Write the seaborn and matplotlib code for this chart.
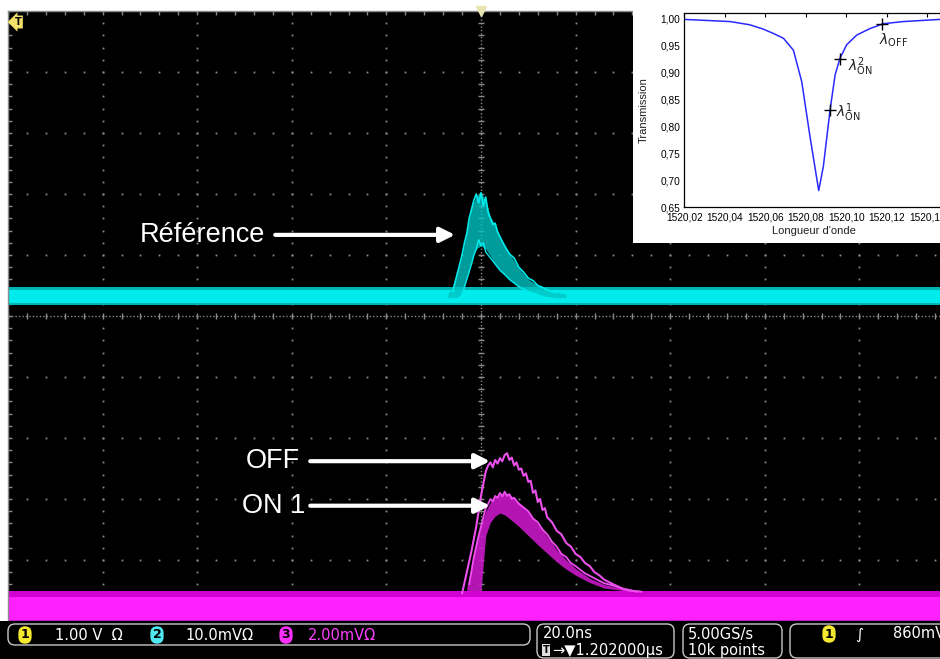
import numpy as np
import seaborn as sns
import matplotlib.pyplot as plt
from matplotlib.patches import Rectangle, FancyBboxPatch
from matplotlib.ticker import MultipleLocator, FuncFormatter

sns.set_theme(style='dark')
plt.rcParams['font.family'] = ['DejaVu Sans']

# --- scope traces (time in ns, vertical in divisions) ---
cyan_band = (0.18, 0.47)
cyan_core = (0.22, 0.43)
magenta_band = (-5.0, -4.5)
magenta_core = (-4.98, -4.6)

ref_t = [-7, -6, -5, -4, -3, -2, -1, 0, 1, 2, 3, 4, 6, 8, 10, 12, 14, 16, 18]
ref_hi = [0.38, 0.45, 0.7, 0.98, 1.38, 1.78, 1.97, 2.02, 1.9, 1.62, 1.5, 1.3, 1.02, 0.78, 0.6, 0.5, 0.43, 0.39, 0.36]
ref_lo = [0.3, 0.3, 0.3, 0.38, 0.62, 0.9, 1.1, 1.15, 1.1, 0.98, 0.85, 0.75, 0.6, 0.47, 0.4, 0.36, 0.32, 0.3, 0.3]

ref1_t = [-6, -5, -4.5, -4, -3.5, -3, -2.5, -2, -1.5, -1, -0.5, 0, 0.5, 1, 1.5, 2, 2.5, 3, 3.5, 4,
          5, 6, 7, 8, 9, 10, 11, 12, 13, 14, 15, 16]
ref1_v = [0.4, 0.7, 0.85, 1.0, 1.2, 1.35, 1.6, 1.75, 1.9, 2.0, 1.85, 2.02, 1.8, 1.95, 1.7, 1.6, 1.5, 1.52, 1.38, 1.3,
          1.15, 1.02, 0.95, 0.8, 0.72, 0.62, 0.58, 0.5, 0.47, 0.43, 0.4, 0.38]
ref2_t = [-4, -3, -2, -1.5, -1, -0.5, 0, 0.5, 1, 2, 3, 4, 5, 6, 8, 10, 12]
ref2_v = [0.35, 0.6, 0.85, 1.0, 1.1, 1.25, 1.15, 1.2, 1.05, 0.95, 0.85, 0.75, 0.68, 0.6, 0.48, 0.4, 0.35]

on_t = [-3, -2, -1, 0, 1, 2, 3, 4, 5, 6, 8, 10, 12, 14, 16, 18, 20, 23, 26, 30, 34]
on_hi = [-4.45, -4.1, -3.75, -3.45, -3.2, -3.05, -2.97, -2.93, -2.9, -2.92, -3.05, -3.2, -3.41, -3.62, -3.83,
         -4.0, -4.14, -4.3, -4.4, -4.47, -4.5]
on_lo = [-4.5, -4.5, -4.5, -4.5, -3.6, -3.38, -3.28, -3.23, -3.26, -3.32, -3.45, -3.6, -3.75, -3.89, -4.03,
         -4.15, -4.25, -4.37, -4.46, -4.5, -4.5]

on1_t = [-2.5, -1.5, -0.5, 0.5, 1, 1.5, 2, 2.5, 3, 3.5, 4, 4.5, 5, 5.5, 6, 6.5, 7, 8, 9, 10, 11, 12, 13, 14,
         15, 16, 17, 18, 19, 20, 22, 24, 26, 28, 31, 34]
on1_v = [-4.4, -3.95, -3.6, -3.3, -3.15, -3.08, -3.0, -3.04, -2.95, -2.98, -2.9, -2.96, -2.88, -2.95, -2.92,
         -3.0, -2.98, -3.08, -3.14, -3.2, -3.32, -3.38, -3.5, -3.58, -3.7, -3.78, -3.9, -3.95, -4.05, -4.1,
         -4.22, -4.3, -4.38, -4.42, -4.5, -4.52]

off_t = [-4, -3, -2, -1, 0, 0.5, 1, 1.5, 2, 2.5, 3, 3.5, 4, 4.5, 5, 5.5, 6, 6.5, 7, 7.5, 8, 8.5, 9, 9.5, 10,
         10.5, 11, 11.5, 12, 12.5, 13, 13.5, 14, 15, 16, 17, 18, 19, 20, 21, 22, 23, 24, 25, 26, 28, 30, 33]
off_v = [-4.55, -4.2, -3.85, -3.45, -2.95, -2.75, -2.55, -2.45, -2.4, -2.48, -2.36, -2.42, -2.33, -2.38, -2.28,
         -2.25, -2.36, -2.32, -2.45, -2.4, -2.52, -2.5, -2.62, -2.58, -2.72, -2.7, -2.9, -2.86, -3.05, -3.0,
         -3.18, -3.15, -3.3, -3.38, -3.52, -3.58, -3.72, -3.78, -3.9, -3.95, -4.05, -4.1, -4.2, -4.25, -4.32,
         -4.4, -4.47, -4.52]

# --- inset: transmission curve ---
wl = [1520.02, 1520.0426, 1520.0524, 1520.059, 1520.064, 1520.069, 1520.0739, 1520.078, 1520.0821,
      1520.0864, 1520.0887, 1520.092, 1520.0945, 1520.0969, 1520.1002, 1520.1052, 1520.1117, 1520.1183,
      1520.1282, 1520.1463]
trans = [0.998, 0.994, 0.988, 0.980, 0.972, 0.963, 0.941, 0.883, 0.781, 0.681, 0.726, 0.830, 0.895, 0.926,
         0.951, 0.969, 0.981, 0.990, 0.994, 0.998]
mark_wl = [1520.092, 1520.0969, 1520.1178]
mark_tr = [0.830, 0.925, 0.990]
mark_lbl = [r'$\lambda^{1}_{\mathrm{ON}}$', r'$\lambda^{2}_{\mathrm{ON}}$', r'$\lambda_{\mathsf{OFF}}$']

W, H = 940, 659
fig = plt.figure(figsize=(9.4, 6.59), dpi=100, facecolor='white')


def fx(x):
    return x / W


def fy(y):
    return (H - y) / H


def px(x, y):
    return x / 100, (H - y) / 100


# status bar background
fig.patches.append(Rectangle((0, 0), 1, fy(621), transform=fig.transFigure,
                             facecolor='black', edgecolor='none', zorder=0))

ax = fig.add_axes([fx(8), fy(621), 946 / W, 610 / H])
ax.set_facecolor('black')
ax.set_xlim(-100, 100)
ax.set_ylim(-5, 5)
ax.set_xticks([])
ax.set_yticks([])
for s in ax.spines.values():
    s.set_color('#8c8c8c')
    s.set_linewidth(1)

# graticule
gc = '#8a8a8a'
minor_t = np.arange(-100, 100.1, 4)
minor_v = np.arange(-5, 5.01, 0.2)
for v in range(-4, 5):
    if v != 0:
        ax.plot(minor_t, np.full_like(minor_t, v), ls='none', marker='s', ms=1.3, mew=0, color=gc, zorder=1)
for t in range(-80, 81, 20):
    if t != 0:
        ax.plot(np.full_like(minor_v, t), minor_v, ls='none', marker='s', ms=1.3, mew=0, color=gc, zorder=1)
ax.axhline(0, color=gc, lw=1, ls=(0, (1, 1.5)), zorder=1)
ax.axvline(0, color=gc, lw=1, ls=(0, (1, 1.5)), zorder=1)
ax.plot(minor_t, np.zeros_like(minor_t), ls='none', marker='|', ms=5, color=gc, zorder=1)
ax.plot(np.zeros_like(minor_v), minor_v, ls='none', marker='_', ms=5, color=gc, zorder=1)
ax.plot(minor_t, np.full_like(minor_t, 5), ls='none', marker='|', ms=6, color=gc, zorder=1)
ax.plot(np.full_like(minor_v, -100), minor_v, ls='none', marker='_', ms=6, color=gc, zorder=1)

# channel 2 (cyan)
cyan = '#00ecec'
ax.fill_between([-100, 100], *cyan_band, color='#00b4b4', lw=0, zorder=2)
ax.fill_between([-100, 100], *cyan_core, color=cyan, lw=0, zorder=2)
ax.fill_between(ref_t, ref_lo, ref_hi, color='#00c4c4', alpha=0.8, lw=0, zorder=2)
sns.lineplot(x=ref1_t, y=ref1_v, ax=ax, color=cyan, lw=1.2, sort=False, estimator=None, zorder=3)
sns.lineplot(x=ref2_t, y=ref2_v, ax=ax, color=cyan, lw=1.0, sort=False, estimator=None, zorder=3)

# channel 3 (magenta)
mag = '#ff20ff'
ax.fill_between([-100, 100], *magenta_band, color='#d000d0', lw=0, zorder=2)
ax.fill_between([-100, 100], *magenta_core, color=mag, lw=0, zorder=2)
ax.fill_between(on_t, on_lo, on_hi, color='#c818c8', alpha=0.9, lw=0, zorder=2)
sns.lineplot(x=on1_t, y=on1_v, ax=ax, color='#f050f0', lw=1.3, sort=False, estimator=None, zorder=3)
sns.lineplot(x=off_t, y=off_v, ax=ax, color='#ec50ec', lw=1.5, sort=False, estimator=None, zorder=3)

# trigger marker
ax.plot([0], [5], marker='v', ms=7, color='#e8e4b0', clip_on=False, zorder=6)
fig.text(fx(18), fy(22), 'T', color='black', fontsize=7, fontweight='bold', ha='center', va='center',
         bbox=dict(boxstyle='larrow,pad=0.15', fc='#f2e06a', ec='none'), zorder=6)

# annotations
afont = dict(family='Liberation Sans', fontsize=19.5, color='white', va='center', ha='right')
arr = dict(arrowstyle='-|>', color='white', lw=3, mutation_scale=22, shrinkA=0, shrinkB=0)
ax.text(-45.7, 1.33, 'Référence', **afont, zorder=5)
ax.annotate('', xy=(-5.5, 1.33), xytext=(-43.5, 1.33), arrowprops=arr, zorder=5)
ax.text(-38.3, -2.38, 'OFF', **afont, zorder=5)
ax.annotate('', xy=(1.9, -2.38), xytext=(-36.1, -2.38), arrowprops=arr, zorder=5)
ax.text(-37.2, -3.11, 'ON 1', **afont, zorder=5)
ax.annotate('', xy=(1.9, -3.11), xytext=(-36.1, -3.11), arrowprops=arr, zorder=5)

# inset
fig.patches.append(Rectangle((fx(633), fy(243)), 307 / W, 243 / H, transform=fig.transFigure,
                             facecolor='white', edgecolor='none', zorder=3))
ins = fig.add_axes([fx(684.3), fy(207.3), 259.1 / W, 194 / H])
ins.set_zorder(5)
ins.set_facecolor('white')
sns.lineplot(x=wl, y=trans, ax=ins, color='#2a2aff', lw=1.1, sort=False, estimator=None)
ins.plot(mark_wl, mark_tr, ls='none', marker='+', ms=9, mew=1, color='black')
offs = [(4, -2), (6, -6), (-2, -12)]
for w_, t_, l_, o_ in zip(mark_wl, mark_tr, mark_lbl, offs):
    ins.annotate(l_, xy=(w_, t_), xytext=o_, textcoords='offset points', fontsize=10,
                 ha='left', va='center', color='#202020')
ins.set_xlim(1520.02, 1520.148)
ins.set_ylim(0.65, 1.0093)
ins.xaxis.set_major_locator(MultipleLocator(0.02))
ins.yaxis.set_major_locator(MultipleLocator(0.05))
comma = FuncFormatter(lambda v, p: f'{v:.2f}'.replace('.', ','))
ins.xaxis.set_major_formatter(comma)
ins.yaxis.set_major_formatter(comma)
ins.tick_params(direction='in', top=True, right=False, length=3, width=0.8, labelsize=7.3,
                colors='black', labelfontfamily='Liberation Sans')
ins.tick_params(axis='x', pad=4)
ins.tick_params(axis='y', pad=3)
ins.set_xlabel('Longueur d\'onde', family='Liberation Sans', fontsize=8, labelpad=2, color='#202020')
ins.set_ylabel('Transmission', family='Liberation Sans', fontsize=8, labelpad=8, color='#202020')
ins.grid(False)
for s in ins.spines.values():
    s.set_color('black')
    s.set_linewidth(0.9)

# status bar
tr = fig.dpi_scale_trans
bc = '#c8c8c8'
for x0, y0, x1, y1 in [(8, 624, 530, 645), (537, 624, 674, 658), (683, 624, 782, 658), (790, 624, 980, 658)]:
    (a, b) = px(x0, y1)
    fig.patches.append(FancyBboxPatch((a, b), (x1 - x0) / 100, (y1 - y0) / 100,
                                      boxstyle='round,pad=0,rounding_size=0.07', transform=tr,
                                      facecolor='black', edgecolor=bc, lw=1, zorder=2))
sfont = dict(fontsize=10.5, va='center', ha='left', transform=tr, zorder=4)
badge = dict(boxstyle='round,pad=0.18,rounding_size=0.55', ec='none')
for bx, txt, col in [(25, '1', '#f5e830'), (157, '2', '#50e8f0'), (286, '3', '#ff30ff')]:
    fig.text(*px(bx, 635), txt, color='black', fontsize=9, fontweight='bold', ha='center', va='center',
             transform=tr, bbox=dict(fc=col, **badge), zorder=4)
fig.text(*px(55, 635), '1.00 V  Ω', color='white', **sfont)
fig.text(*px(185, 635), '10.0mVΩ', color='white', **sfont)
fig.text(*px(308, 635), '2.00mVΩ', color='#ff40ff', **sfont)
fig.text(*px(543, 634), '20.0ns', color='white', **sfont)
fig.text(*px(546, 650), 'T', color='black', fontsize=7, fontweight='bold', ha='center', va='center',
         transform=tr, bbox=dict(boxstyle='square,pad=0.1', fc='#e0e0e0', ec='none'), zorder=4)
fig.text(*px(552, 650), '→▼1.202000µs', color='white', **sfont)
fig.text(*px(688, 634), '5.00GS/s', color='white', **sfont)
fig.text(*px(688, 650), '10k points', color='white', **sfont)
fig.text(*px(829, 634), '1', color='black', fontsize=9, fontweight='bold', ha='center', va='center',
         transform=tr, bbox=dict(fc='#f5e830', **badge), zorder=4)
fig.text(*px(855, 634), '∫', color='white', fontsize=11, ha='left', va='center', transform=tr, zorder=4)
fig.text(*px(893, 634), '860mV', color='white', **sfont)

fig.savefig('out.png', dpi=100, facecolor='white')
